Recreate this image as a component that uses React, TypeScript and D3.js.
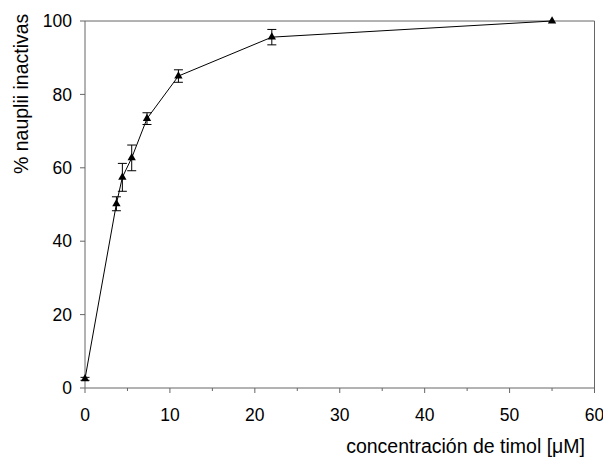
import React from "react";
import * as d3 from "d3";

const concentrations = [0, 3.7, 4.4, 5.5, 7.3, 11, 22, 55];
const inactivePct = [2.5, 50.2, 57.4, 62.7, 73.4, 85.0, 95.6, 100];
const errors = [0.4, 1.9, 3.8, 3.5, 1.6, 1.7, 2.1, 0];
const xMajorTicks = [0, 10, 20, 30, 40, 50, 60];
const xMinorTicks = [5, 15, 25, 35, 45, 55];
const yTicks = [0, 20, 40, 60, 80, 100];

const W = 603;
const H = 457;
const left = 85;
const right = 594.5;
const top = 21;
const bottom = 388;
const axisColor = "#666";
const font = "'Liberation Sans', Arial, sans-serif";

export default function App() {
  const x = d3.scaleLinear().domain([0, 60]).range([left, right]);
  const y = d3.scaleLinear().domain([0, 100]).range([bottom, top]);
  const pts = concentrations.map((c, i) => ({ c, v: inactivePct[i], e: errors[i] }));
  const line = d3
    .line<{ c: number; v: number }>()
    .x((d) => x(d.c))
    .y((d) => y(d.v));
  const tri = d3.symbol().type(d3.symbolTriangle).size(30)();

  return (
    <svg
      width={W}
      height={H}
      style={{ position: "absolute", left: 0, top: 0, background: "#fff" }}
      fontFamily={font}
    >
      {/* frame */}
      <line x1={left} x2={right} y1={top} y2={top} stroke={axisColor} strokeWidth={1} />
      <line x1={right} x2={right} y1={top} y2={bottom} stroke={axisColor} strokeWidth={1} />
      <line x1={left} x2={right} y1={bottom} y2={bottom} stroke={axisColor} strokeWidth={1} />
      <line x1={left} x2={left} y1={top} y2={bottom} stroke={axisColor} strokeWidth={1} />

      {/* x ticks */}
      {xMajorTicks.map((t) => (
        <g key={"xm" + t}>
          <line x1={x(t)} x2={x(t)} y1={bottom} y2={bottom + 5} stroke={axisColor} />
          <text x={x(t)} y={421} textAnchor="middle" fontSize={17.5} fill="#000">
            {t}
          </text>
        </g>
      ))}
      {xMinorTicks.map((t) => (
        <line key={"xn" + t} x1={x(t)} x2={x(t)} y1={bottom} y2={bottom + 3} stroke={axisColor} />
      ))}

      {/* y ticks */}
      {yTicks.map((t) => (
        <g key={"y" + t}>
          <line x1={left - 5} x2={left} y1={y(t)} y2={y(t)} stroke={axisColor} />
          <text
            x={72}
            y={y(t)}
            dy="0.35em"
            textAnchor="end"
            fontSize={17.5}
            fill="#000"
          >
            {t}
          </text>
        </g>
      ))}

      {/* axis titles */}
      <text x={585} y={453} textAnchor="end" fontSize={19.5} fill="#000">
        concentración de timol [μM]
      </text>
      <text
        transform={`translate(28, ${(12.7 + 175) / 2}) rotate(-90)`}
        textAnchor="middle"
        fontSize={19.5}
        fill="#000"
      >
        % nauplii inactivas
      </text>

      {/* data line */}
      <path d={line(pts) ?? ""} fill="none" stroke="#000" strokeWidth={1} />

      {/* error bars */}
      {pts.map((p, i) =>
        p.e > 0 ? (
          <g key={"e" + i} stroke="#000" strokeWidth={1}>
            <line x1={x(p.c)} x2={x(p.c)} y1={y(p.v - p.e)} y2={y(p.v + p.e)} />
            <line x1={x(p.c) - 4.5} x2={x(p.c) + 4.5} y1={y(p.v + p.e)} y2={y(p.v + p.e)} />
            <line x1={x(p.c) - 4.5} x2={x(p.c) + 4.5} y1={y(p.v - p.e)} y2={y(p.v - p.e)} />
          </g>
        ) : null
      )}

      {/* markers */}
      {pts.map((p, i) => (
        <path key={"m" + i} d={tri ?? ""} transform={`translate(${x(p.c)},${y(p.v)})`} fill="#000" />
      ))}
    </svg>
  );
}
